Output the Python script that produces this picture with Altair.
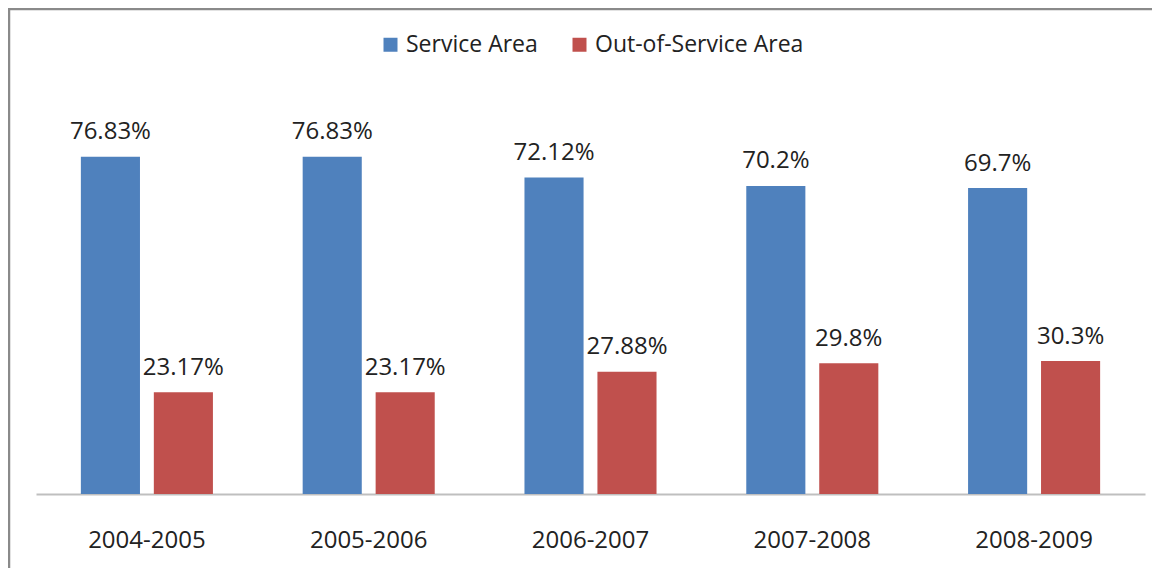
import altair as alt
import pandas as pd

periods = ["2004-2005", "2005-2006", "2006-2007", "2007-2008", "2008-2009"]
series_names = ["Service Area", "Out-of-Service Area"]
service = [76.83, 76.83, 72.12, 70.2, 69.7]
out_service = [23.17, 23.17, 27.88, 29.8, 30.3]
colors = ["#4F81BD", "#C0504D"]

rows = []
for p, s, o in zip(periods, service, out_service):
    rows.append({"period": p, "series": series_names[0], "value": s, "label": f"{s:g}%"})
    rows.append({"period": p, "series": series_names[1], "value": o, "label": f"{o:g}%"})
df = pd.DataFrame(rows)

FONT = "Open Sans"
TXT = "#222222"

yscale = alt.Scale(domain=[0, 90])

base = alt.Chart(df).encode(
    x=alt.X(
        "period:N",
        sort=periods,
        scale=alt.Scale(paddingInner=0, paddingOuter=0),
        axis=alt.Axis(
            title=None, labelAngle=0, ticks=False, tickSize=0, grid=False,
            domainColor="#bfbfbf", domainWidth=2,
            labelFont=FONT, labelFontSize=24, labelColor=TXT,
            labelPadding=53, labelBaseline="alphabetic",
        ),
    ),
    xOffset=alt.XOffset(
        "series:N", sort=series_names,
        scale=alt.Scale(paddingInner=0.19, paddingOuter=0.615),
    ),
)

bars = base.mark_bar().encode(
    y=alt.Y("value:Q", scale=yscale, axis=None),
    color=alt.Color(
        "series:N",
        sort=series_names,
        scale=alt.Scale(domain=series_names, range=colors),
        legend=alt.Legend(
            orient="none", legendX=343, legendY=-66, direction="horizontal",
            title=None, symbolType="square", symbolSize=196, symbolStrokeWidth=0,
            labelFont=FONT, labelFontSize=23, labelColor=TXT, labelOffset=4,
            labelLimit=0, columnPadding=30, padding=0, rowPadding=0,
        ),
    ),
)

labels = base.mark_text(
    baseline="alphabetic", dy=-17.5, font=FONT, fontSize=24, color=TXT
).encode(
    y=alt.Y("value:Q", scale=yscale, axis=None),
    text="label:N",
)

frame_df = pd.DataFrame({"k": [0]})
top_rule = alt.Chart(frame_df).mark_rule(color="#8a8a8a", strokeWidth=2.5).encode(
    x=alt.value(-28), x2=alt.value(1125), y=alt.value(-90)
)
left_rule = alt.Chart(frame_df).mark_rule(color="#8a8a8a", strokeWidth=2.5).encode(
    x=alt.value(-27), y=alt.value(-91), y2=alt.value(480)
)

chart = (
    alt.layer(bars, labels, top_rule, left_rule)
    .properties(
        width=1109,
        height=395,
        autosize=alt.AutoSizeParams(type="none"),
        padding={"left": 28, "top": 91, "right": 7, "bottom": 74},
        background="white",
    )
    .configure_view(stroke=None)
)

chart.save("out.html", embed_options={"renderer": "svg", "actions": False})
